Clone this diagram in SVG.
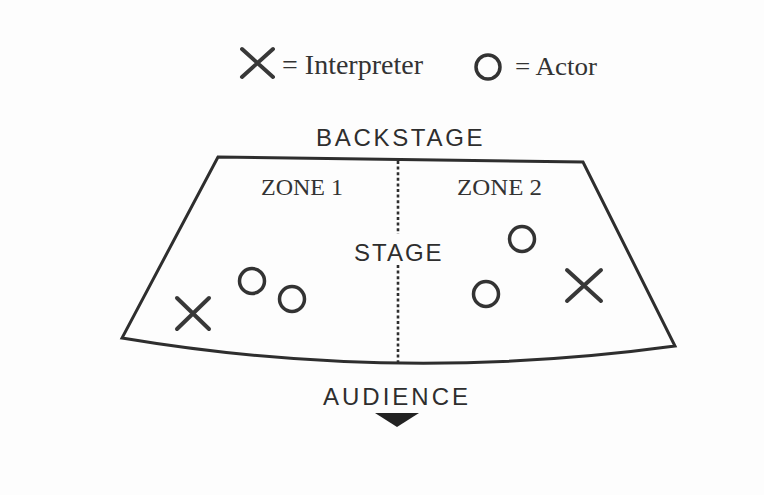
<svg xmlns="http://www.w3.org/2000/svg" width="764" height="495" viewBox="0 0 764 495">
<style>
.bg{fill:#fdfdfd}
.outline{fill:none;stroke:#2e2e2e;stroke-width:3;stroke-linejoin:miter}
.dot{fill:none;stroke:#2e2e2e;stroke-width:2.6;stroke-dasharray:3 2.6}
.x{stroke:#383838;stroke-width:4;stroke-linecap:round;fill:none}
.o{fill:none;stroke:#333;stroke-width:3.5}
.serif{font-family:"Liberation Serif","Times New Roman",serif;fill:#333}
.sans{font-family:"Liberation Sans",Arial,sans-serif;fill:#2e2e2e}
</style>
<rect class="bg" x="0" y="0" width="764" height="495"/>

<g id="legend">
  <path class="x" d="M242,49 L273,77 M273,49 L242,77"/>
  <text class="serif" x="282" y="74" font-size="27" textLength="141" lengthAdjust="spacingAndGlyphs">= Interpreter</text>
  <circle class="o" cx="488" cy="67" r="12"/>
  <text class="serif" x="515" y="75" font-size="26" textLength="82" lengthAdjust="spacingAndGlyphs">= Actor</text>
</g>

<g id="backstage-label">
  <text class="sans" x="316" y="146" font-size="24" letter-spacing="2.7">BACKSTAGE</text>
</g>

<g id="stage">
  <path class="outline" d="M218,157 L583,162 L675,346 Q395.5,384 122,338 Z"/>
</g>

<g id="connectors">
  <line class="dot" x1="398" y1="161" x2="398" y2="234"/>
  <line class="dot" x1="398" y1="265" x2="398" y2="362"/>
</g>

<g id="zone1">
  <text class="serif" x="261" y="195" font-size="23" textLength="82" lengthAdjust="spacingAndGlyphs">ZONE 1</text>
</g>
<g id="zone2">
  <text class="serif" x="457" y="195" font-size="23" textLength="85" lengthAdjust="spacingAndGlyphs">ZONE 2</text>
</g>
<g id="stage-label">
  <text class="sans" x="354" y="261" font-size="24" letter-spacing="2">STAGE</text>
</g>

<g id="interpreter1"><path class="x" d="M177,298 L209,329 M209,298 L177,329"/></g>
<g id="actor1"><circle class="o" cx="252" cy="281" r="12.5"/></g>
<g id="actor2"><circle class="o" cx="292" cy="299" r="12.5"/></g>
<g id="actor3"><circle class="o" cx="522" cy="239" r="12.5"/></g>
<g id="actor4"><circle class="o" cx="486" cy="294" r="12.5"/></g>
<g id="interpreter2"><path class="x" d="M567,270 L601,301 M601,270 L567,301"/></g>

<g id="audience">
  <text class="sans" x="323" y="405" font-size="24" letter-spacing="3">AUDIENCE</text>
  <polygon points="375,413 419,413 397,427" fill="#222"/>
</g>
</svg>
